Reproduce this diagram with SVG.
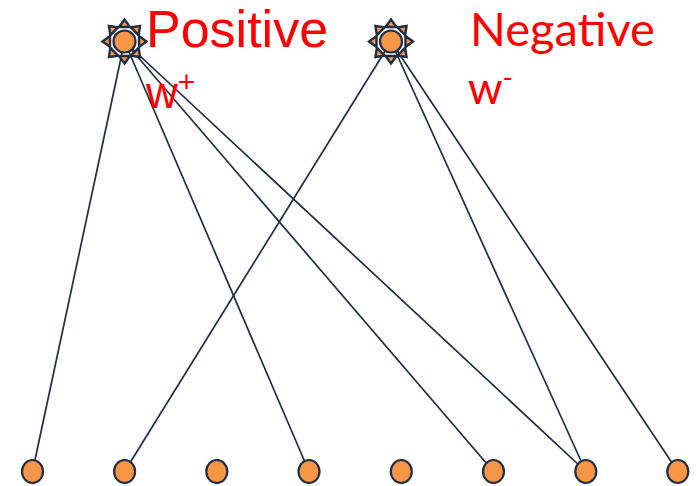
<svg xmlns="http://www.w3.org/2000/svg" xmlns:xlink="http://www.w3.org/1999/xlink" width="696" height="486" viewBox="0 0 696 486">
  <style>
    .edge { stroke: #1f2d45; stroke-width: 1.7; fill: none; }
    .node { fill: #f79646; stroke: #1f2d45; stroke-width: 2.2; }
    .ray { fill: #f79646; stroke: #1f2d45; stroke-width: 2.4; stroke-linejoin: miter; }
    .lbl { fill: #ff0000; }
    .arial { font-family: "Liberation Sans", Arial, sans-serif; }
    .sans { font-family: Lato, "Open Sans", sans-serif; }
  </style>
  <defs>
    <polygon id="ray" class="ray" points="0,-22 -5.5,-14.5 5.5,-14.5"/>
    <g id="sun">
      <use xlink:href="#ray"/>
      <use xlink:href="#ray" transform="rotate(45)"/>
      <use xlink:href="#ray" transform="rotate(90)"/>
      <use xlink:href="#ray" transform="rotate(135)"/>
      <use xlink:href="#ray" transform="rotate(180)"/>
      <use xlink:href="#ray" transform="rotate(225)"/>
      <use xlink:href="#ray" transform="rotate(270)"/>
      <use xlink:href="#ray" transform="rotate(315)"/>
      <circle class="node" r="11"/>
    </g>
  </defs>
  <rect width="696" height="486" fill="#ffffff"/>

  <!-- connectors -->
  <g id="edges">
    <line class="edge" x1="124.5" y1="41.5" x2="32.5" y2="471.5"/>
    <line class="edge" x1="124.5" y1="41.5" x2="309" y2="471.5"/>
    <line class="edge" x1="124.5" y1="41.5" x2="493.5" y2="471.5"/>
    <line class="edge" x1="124.5" y1="41.5" x2="585.8" y2="471.5"/>
    <line class="edge" x1="391" y1="41.5" x2="124.6" y2="471.5"/>
    <line class="edge" x1="391" y1="41.5" x2="585.8" y2="471.5"/>
    <line class="edge" x1="391" y1="41.5" x2="677.8" y2="471.5"/>
  </g>

  <!-- top nodes -->
  <g id="positive">
    <use xlink:href="#sun" transform="translate(124.5,41.5)"/>
    <text class="lbl arial" x="146" y="47" font-size="52">Positive</text>
    <text class="lbl arial" x="146" y="108" font-size="44">w<tspan font-size="30" dy="-16">+</tspan></text>
  </g>
  <g id="negative">
    <use xlink:href="#sun" transform="translate(391,41.5)"/>
    <text class="lbl sans" x="470" y="46" font-size="47">Negative</text>
    <text class="lbl sans" x="468" y="104" font-size="44">w<tspan font-size="28" dy="-16">-</tspan></text>
  </g>

  <!-- bottom nodes -->
  <g id="n1"><ellipse class="node" cx="32.5" cy="471.5" rx="10.5" ry="11.5"/></g>
  <g id="n2"><ellipse class="node" cx="124.6" cy="471.5" rx="10.5" ry="11.5"/></g>
  <g id="n3"><ellipse class="node" cx="216.8" cy="471.5" rx="10.5" ry="11.5"/></g>
  <g id="n4"><ellipse class="node" cx="309" cy="471.5" rx="10.5" ry="11.5"/></g>
  <g id="n5"><ellipse class="node" cx="401.3" cy="471.5" rx="10.5" ry="11.5"/></g>
  <g id="n6"><ellipse class="node" cx="493.5" cy="471.5" rx="10.5" ry="11.5"/></g>
  <g id="n7"><ellipse class="node" cx="585.8" cy="471.5" rx="10.5" ry="11.5"/></g>
  <g id="n8"><ellipse class="node" cx="677.8" cy="471.5" rx="10.5" ry="11.5"/></g>
</svg>
